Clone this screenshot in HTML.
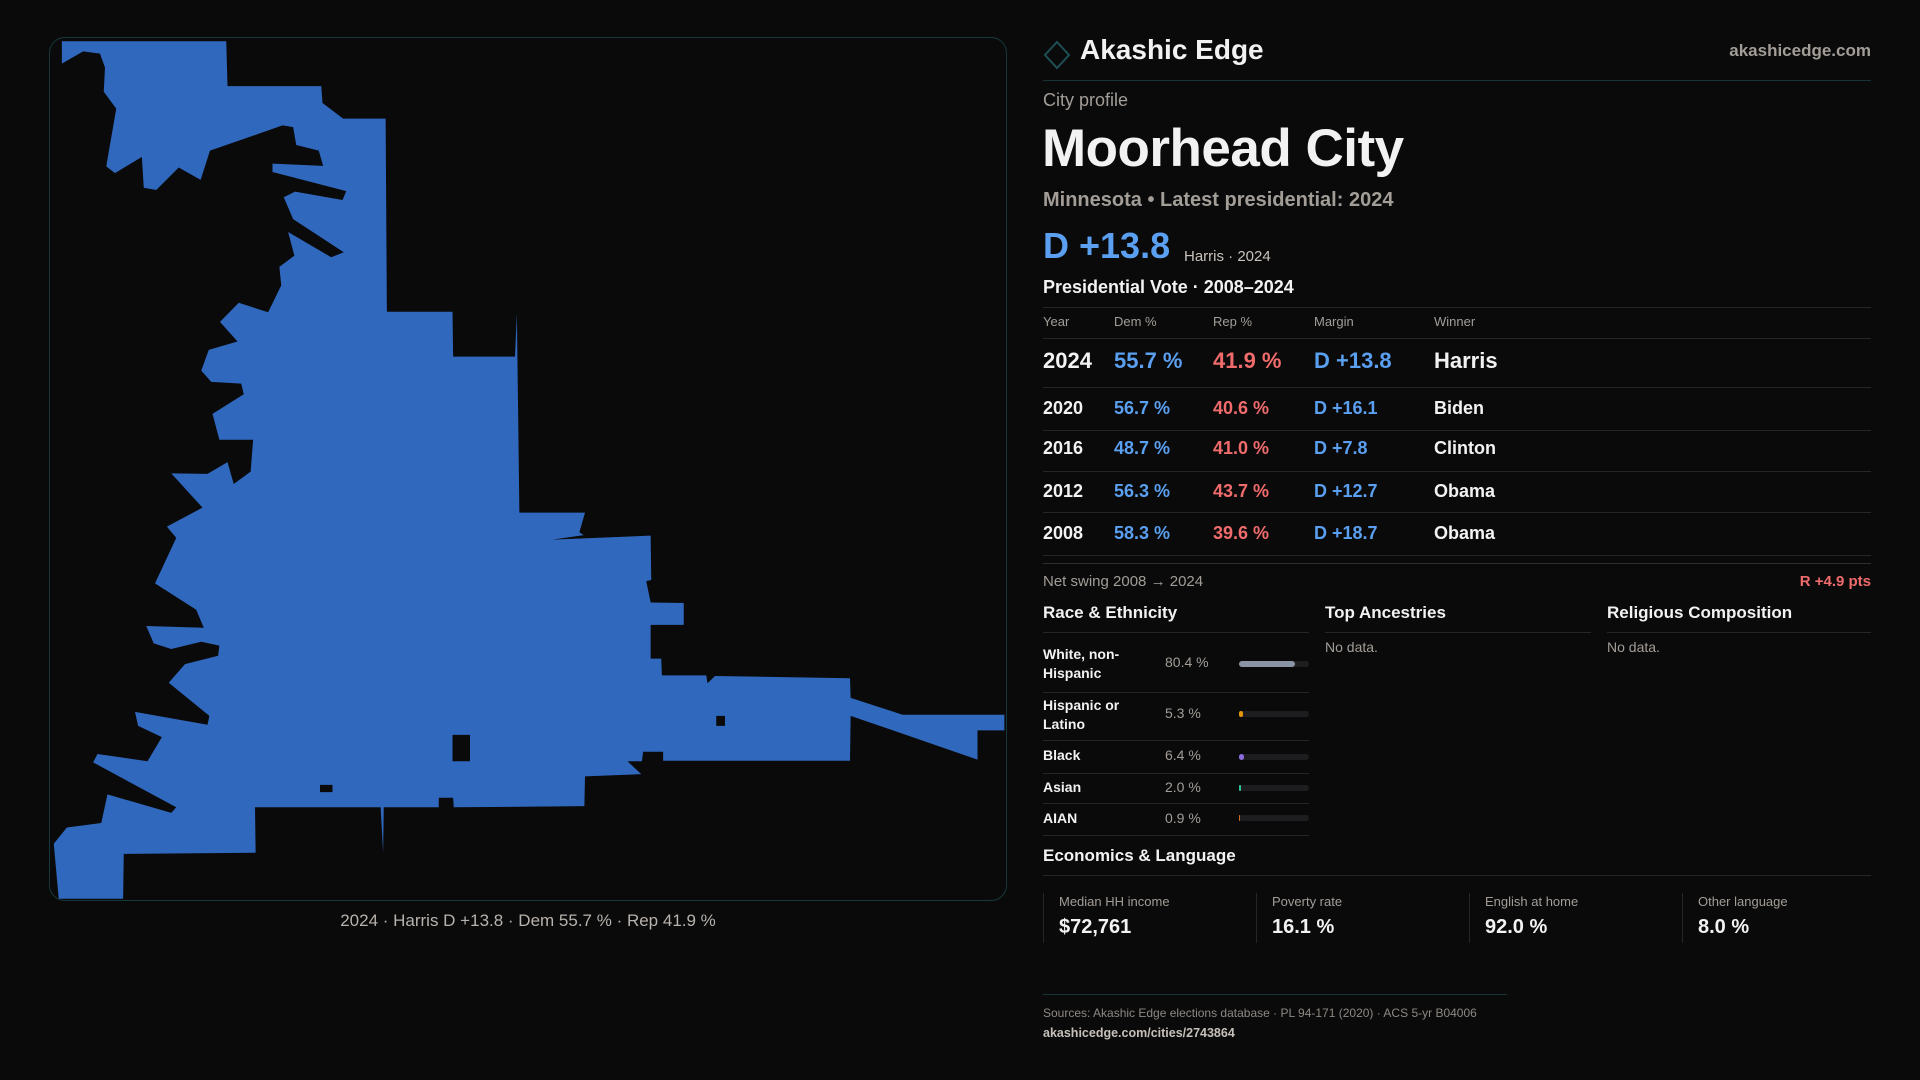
<!DOCTYPE html>
<html><head><meta charset="utf-8"><style>
*{margin:0;padding:0;box-sizing:border-box}
body{width:1920px;height:1080px;background:#0a0a0b;font-family:"Liberation Sans",sans-serif;color:#f2f2f2;position:relative;overflow:hidden}
.a{position:absolute;white-space:nowrap}
.g{color:#a39d97}
.b{color:#5a9ff0}
.r{color:#f06b6b}
.ln{position:absolute;height:1px;background:#262626}
.panel{position:absolute;left:49px;top:37px;width:958px;height:864px;border:1px solid #16383d;border-radius:16px}
.bar{position:absolute;left:1239px;width:70px;height:6px;background:#1d1d1f;border-radius:3px}
.bar i{position:absolute;left:0;top:0;height:6px;border-radius:3px}
.box{position:absolute;top:893px;height:50px;border-left:1px solid #262626}
</style></head><body>
<div class="panel"></div>
<svg class="a" style="left:40px;top:30px" width="980" height="880" viewBox="0 0 1568 1568" preserveAspectRatio="none">
<path fill="#3068be" fill-rule="evenodd" d="M35,20 L298,20 300,100 450,100 452,130 485,158 553,158 555,502 660,502 661,582 760,582 763,505 767,860 872,860 863,895 870,900 820,908 977,901 978,980 970,982 977,1020 1030,1021 1030,1060 977,1060 977,1120 994,1120 995,1150 1066,1150 1068,1164 1080,1151 1296,1155 1297,1190 1380,1220 1543,1220 1543,1248 1500,1248 1500,1300 1297,1222 1296,1302 997,1302 997,1286 965,1286 963,1303 940,1303 962,1326 872,1330 871,1383 662,1385 661,1368 638,1368 638,1385 550,1385 549,1465 545,1385 344,1385 345,1466 134,1468 133,1548 30,1548 22,1450 43,1421 98,1413 108,1362 210,1395 218,1385 85,1305 92,1290 172,1303 195,1260 157,1240 152,1215 268,1238 271,1222 206,1163 232,1130 285,1115 287,1097 258,1090 210,1103 182,1093 170,1062 262,1065 250,1033 184,986 218,905 203,885 260,851 210,790 268,791 300,770 310,809 337,787 341,730 287,730 276,684 326,649 322,630 274,627 258,607 270,570 316,555 288,520 318,486 365,503 386,455 383,422 407,402 397,360 466,405 486,396 405,337 390,298 408,288 484,303 490,287 372,253 372,238 453,242 446,215 410,205 405,173 388,170 272,215 257,267 222,245 186,285 166,281 163,226 120,255 106,243 122,140 102,110 104,67 96,42 69,38 35,60 Z M660,1256 L688,1256 688,1303 660,1303 Z M1082,1222 L1096,1222 1096,1240 1082,1240 Z M448,1345 L468,1345 468,1358 448,1358 Z"/>
</svg>
<div class="a g" style="left:0;width:1056px;text-align:center;top:911px;font-size:17px;color:#b8b2ac">2024 · Harris D +13.8 · Dem 55.7 % · Rep 41.9 %</div>

<svg class="a" style="left:1043px;top:40px" width="28" height="30"><path d="M14,2 L26,15 14,28 2,15Z" fill="none" stroke="#1d4f55" stroke-width="2"/></svg>
<div class="a" style="left:1080px;top:34px;font-size:28px;font-weight:bold">Akashic Edge</div>
<div class="a g" style="right:49px;top:41px;font-size:17px;font-weight:bold">akashicedge.com</div>
<div class="ln" style="left:1043px;width:828px;top:80px;background:#183336"></div>
<div class="a g" style="left:1043px;top:90px;font-size:18px">City profile</div>
<div class="a" style="left:1042px;top:118px;font-size:53px;font-weight:bold;letter-spacing:-0.5px">Moorhead City</div>
<div class="a g" style="left:1043px;top:189px;font-size:20px;font-weight:bold">Minnesota • Latest presidential: 2024</div>
<div class="a b" style="left:1043px;top:225px;font-size:36px;font-weight:bold">D +13.8</div>
<div class="a g" style="left:1184px;top:248px;font-size:15px;color:#c8c2bc">Harris · 2024</div>
<div class="a" style="left:1043px;top:277px;font-size:18px;font-weight:bold">Presidential Vote · 2008–2024</div>
<div class="ln" style="left:1043px;width:828px;top:307px"></div>
<div class="a g" style="left:1043px;top:314px;font-size:13px">Year</div>
<div class="a g" style="left:1114px;top:314px;font-size:13px">Dem %</div>
<div class="a g" style="left:1213px;top:314px;font-size:13px">Rep %</div>
<div class="a g" style="left:1314px;top:314px;font-size:13px">Margin</div>
<div class="a g" style="left:1434px;top:314px;font-size:13px">Winner</div>
<div class="ln" style="left:1043px;width:828px;top:338px"></div>

<div class="a" style="left:1043px;top:348px;font-size:22px;font-weight:bold">2024</div>
<div class="a b" style="left:1114px;top:348px;font-size:22px;font-weight:bold">55.7 %</div>
<div class="a r" style="left:1213px;top:348px;font-size:22px;font-weight:bold">41.9 %</div>
<div class="a b" style="left:1314px;top:348px;font-size:22px;font-weight:bold">D +13.8</div>
<div class="a" style="left:1434px;top:348px;font-size:22px;font-weight:bold">Harris</div>
<div class="ln" style="left:1043px;width:828px;top:387px"></div>

<div class="a" style="left:1043px;top:398px;font-size:18px;font-weight:bold">2020</div>
<div class="a b" style="left:1114px;top:398px;font-size:18px;font-weight:bold">56.7 %</div>
<div class="a r" style="left:1213px;top:398px;font-size:18px;font-weight:bold">40.6 %</div>
<div class="a b" style="left:1314px;top:398px;font-size:18px;font-weight:bold">D +16.1</div>
<div class="a" style="left:1434px;top:398px;font-size:18px;font-weight:bold">Biden</div>
<div class="ln" style="left:1043px;width:828px;top:430px"></div>

<div class="a" style="left:1043px;top:438px;font-size:18px;font-weight:bold">2016</div>
<div class="a b" style="left:1114px;top:438px;font-size:18px;font-weight:bold">48.7 %</div>
<div class="a r" style="left:1213px;top:438px;font-size:18px;font-weight:bold">41.0 %</div>
<div class="a b" style="left:1314px;top:438px;font-size:18px;font-weight:bold">D +7.8</div>
<div class="a" style="left:1434px;top:438px;font-size:18px;font-weight:bold">Clinton</div>
<div class="ln" style="left:1043px;width:828px;top:471px"></div>

<div class="a" style="left:1043px;top:481px;font-size:18px;font-weight:bold">2012</div>
<div class="a b" style="left:1114px;top:481px;font-size:18px;font-weight:bold">56.3 %</div>
<div class="a r" style="left:1213px;top:481px;font-size:18px;font-weight:bold">43.7 %</div>
<div class="a b" style="left:1314px;top:481px;font-size:18px;font-weight:bold">D +12.7</div>
<div class="a" style="left:1434px;top:481px;font-size:18px;font-weight:bold">Obama</div>
<div class="ln" style="left:1043px;width:828px;top:512px"></div>

<div class="a" style="left:1043px;top:523px;font-size:18px;font-weight:bold">2008</div>
<div class="a b" style="left:1114px;top:523px;font-size:18px;font-weight:bold">58.3 %</div>
<div class="a r" style="left:1213px;top:523px;font-size:18px;font-weight:bold">39.6 %</div>
<div class="a b" style="left:1314px;top:523px;font-size:18px;font-weight:bold">D +18.7</div>
<div class="a" style="left:1434px;top:523px;font-size:18px;font-weight:bold">Obama</div>
<div class="ln" style="left:1043px;width:828px;top:555px"></div>
<div class="ln" style="left:1043px;width:828px;top:563px;background:#2e2e2e"></div>

<div class="a g" style="left:1043px;top:573px;font-size:15px">Net swing 2008 → 2024</div>
<div class="a r" style="right:49px;top:573px;font-size:15px;font-weight:bold">R +4.9 pts</div>

<div class="a" style="left:1043px;top:603px;font-size:17px;font-weight:bold">Race &amp; Ethnicity</div>
<div class="a" style="left:1325px;top:603px;font-size:17px;font-weight:bold">Top Ancestries</div>
<div class="a" style="left:1607px;top:603px;font-size:17px;font-weight:bold">Religious Composition</div>
<div class="ln" style="left:1043px;width:266px;top:632px"></div>
<div class="ln" style="left:1325px;width:266px;top:632px"></div>
<div class="ln" style="left:1607px;width:264px;top:632px"></div>
<div class="a g" style="left:1325px;top:639px;font-size:14px">No data.</div>
<div class="a g" style="left:1607px;top:639px;font-size:14px">No data.</div>

<div class="a" style="left:1043px;top:645px;font-size:14px;line-height:19px;font-weight:bold">White, non-<br>Hispanic</div>
<div class="a g" style="left:1165px;top:654px;font-size:14px">80.4 %</div>
<div class="bar" style="top:661px"><i style="width:56px;background:#8a94a6"></i></div>
<div class="ln" style="left:1043px;width:266px;top:692px"></div>
<div class="a" style="left:1043px;top:696px;font-size:14px;line-height:19px;font-weight:bold">Hispanic or<br>Latino</div>
<div class="a g" style="left:1165px;top:705px;font-size:14px">5.3 %</div>
<div class="bar" style="top:711px"><i style="width:4px;background:#e2940c"></i></div>
<div class="ln" style="left:1043px;width:266px;top:740px"></div>
<div class="a" style="left:1043px;top:747px;font-size:14px;font-weight:bold">Black</div>
<div class="a g" style="left:1165px;top:747px;font-size:14px">6.4 %</div>
<div class="bar" style="top:754px"><i style="width:5px;background:#8b6cdc"></i></div>
<div class="ln" style="left:1043px;width:266px;top:773px"></div>
<div class="a" style="left:1043px;top:779px;font-size:14px;font-weight:bold">Asian</div>
<div class="a g" style="left:1165px;top:779px;font-size:14px">2.0 %</div>
<div class="bar" style="top:785px"><i style="width:2px;background:#2cc39a"></i></div>
<div class="ln" style="left:1043px;width:266px;top:803px"></div>
<div class="a" style="left:1043px;top:810px;font-size:14px;font-weight:bold">AIAN</div>
<div class="a g" style="left:1165px;top:810px;font-size:14px">0.9 %</div>
<div class="bar" style="top:815px"><i style="width:1px;background:#d06a20"></i></div>
<div class="ln" style="left:1043px;width:266px;top:835px"></div>

<div class="a" style="left:1043px;top:846px;font-size:17px;font-weight:bold">Economics &amp; Language</div>
<div class="ln" style="left:1043px;width:828px;top:875px"></div>
<div class="box" style="left:1043px"></div>
<div class="box" style="left:1256px"></div>
<div class="box" style="left:1469px"></div>
<div class="box" style="left:1682px"></div>
<div class="a g" style="left:1059px;top:894px;font-size:13px">Median HH income</div>
<div class="a" style="left:1059px;top:916px;font-size:20px;font-weight:bold">$72,761</div>
<div class="a g" style="left:1272px;top:894px;font-size:13px">Poverty rate</div>
<div class="a" style="left:1272px;top:916px;font-size:20px;font-weight:bold">16.1 %</div>
<div class="a g" style="left:1485px;top:894px;font-size:13px">English at home</div>
<div class="a" style="left:1485px;top:916px;font-size:20px;font-weight:bold">92.0 %</div>
<div class="a g" style="left:1698px;top:894px;font-size:13px">Other language</div>
<div class="a" style="left:1698px;top:916px;font-size:20px;font-weight:bold">8.0 %</div>

<div class="ln" style="left:1043px;width:464px;top:994px;background:#173538"></div>
<div class="a g" style="left:1043px;top:1006px;font-size:12px;color:#8e8882">Sources: Akashic Edge elections database · PL 94-171 (2020) · ACS 5-yr B04006</div>
<div class="a" style="left:1043px;top:1026px;font-size:12.5px;font-weight:bold;color:#c6c0ba">akashicedge.com/cities/2743864</div>
</body></html>
